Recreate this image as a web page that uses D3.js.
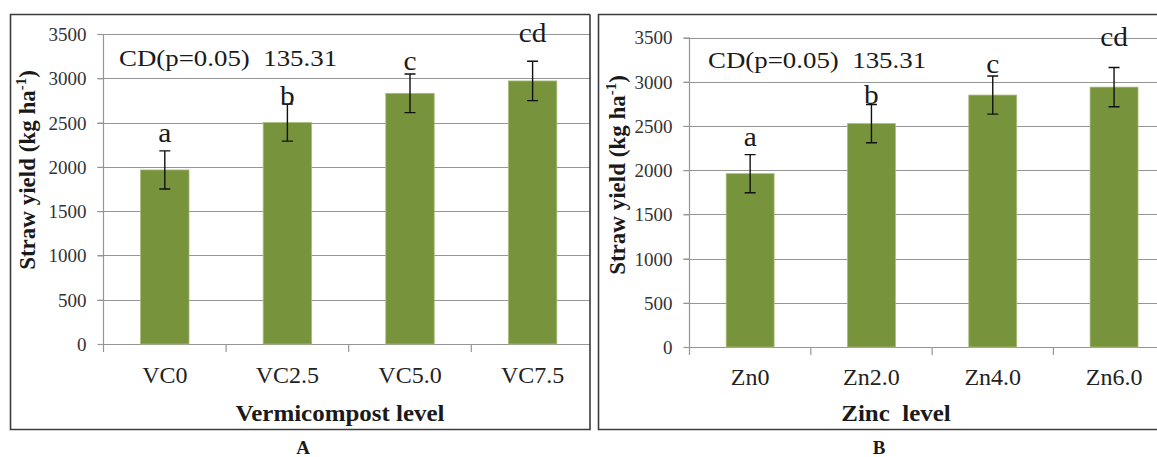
<!DOCTYPE html>
<html>
<head>
<meta charset="utf-8">
<script src="https://cdn.jsdelivr.net/npm/d3@7"></script>
<style>
  html, body { margin: 0; padding: 0; background: #fff; }
  svg { display: block; }
</style>
</head>
<body>
<svg id="chart" width="1157" height="457"></svg>
<script>
// ---- data ----
const yTicks = [0, 500, 1000, 1500, 2000, 2500, 3000, 3500];
const yTitle = "Straw yield (kg ha";
const ySup = "-1";
const cdText = "CD(p=0.05)  135.31";

const vcCategories = ["VC0", "VC2.5", "VC5.0", "VC7.5"];
const vcValues = [1965, 2500, 2830, 2970];
const vcErrors = [215, 210, 218, 222];
const vcLetters = ["a", "b", "c", "cd"];
const vcLetterAt = [2284, 2698, 3094, 3406];
const vcTitle = "Vermicompost level";
const vcCaption = "A";

const znCategories = ["Zn0", "Zn2.0", "Zn4.0", "Zn6.0"];
const znValues = [1960, 2526, 2849, 2939];
const znErrors = [215, 216, 215, 222];
const znLetters = ["a", "b", "c", "cd"];
const znLetterAt = [2273, 2744, 3102, 3402];
const znTitle = "Zinc  level";
const znCaption = "B";

// ---- layout ----
const FONT = '"Liberation Serif", "Times New Roman", Tinos, serif';
const svg = d3.select("#chart");
const BAR = "#77933c";
const GRID = "#969696";

const panels = [
  { cats: vcCategories, vals: vcValues, errs: vcErrors, letters: vcLetters, letterAt: vcLetterAt,
    title: vcTitle, caption: vcCaption,
    box: [10.5, 14.5, 590, 429.5], axisX: 103.5, step: 122.6, y0: 344, yTop: 34,
    yTitleX: 35, yTitleY: 170, titleX: 340, captionX: 303, catY: 383, cdX: 119, cdY: 66 },
  { cats: znCategories, vals: znValues, errs: znErrors, letters: znLetters, letterAt: znLetterAt,
    title: znTitle, caption: znCaption,
    box: [598.5, 14.5, 1170, 429.5], axisX: 689.5, step: 121.3, y0: 347, yTop: 37.5,
    yTitleX: 625, yTitleY: 175, titleX: 896, captionX: 879, catY: 385, cdX: 708, cdY: 68 }
];

function txt(g, x, y, s, size, opts = {}) {
  return g.append("text")
    .attr("transform", `translate(${x},${y}) scale(${opts.sx || 1},1)`)
    .attr("text-anchor", opts.anchor || "middle")
    .style("font-family", FONT)
    .style("font-size", size + "px")
    .style("font-weight", opts.weight || "normal")
    .style("white-space", "pre")
    .attr("fill", opts.fill || "#1a1a1a")
    .text(s);
}

panels.forEach((p, pi) => {
  const g = svg.append("g");
  const [bx0, by0, bx1, by1] = p.box;
  const clipId = "clip" + pi;
  svg.append("clipPath").attr("id", clipId)
    .append("rect").attr("x", bx0).attr("y", by0).attr("width", Math.min(bx1, 1157) - bx0).attr("height", by1 - by0);

  const x = d3.scaleBand().domain(p.cats)
    .range([p.axisX, p.axisX + p.step * p.cats.length])
    .paddingInner(0.605).paddingOuter(0.3025);
  const y = d3.scaleLinear().domain([0, 3500]).range([p.y0, p.yTop]);

  const inner = g.append("g").attr("clip-path", `url(#${clipId})`);

  // gridlines
  inner.append("g").selectAll("line").data(yTicks.filter(d => d > 0)).join("line")
    .attr("x1", p.axisX - 6).attr("x2", bx1)
    .attr("y1", d => Math.round(y(d)) + 0.5).attr("y2", d => Math.round(y(d)) + 0.5)
    .attr("stroke", GRID).attr("stroke-width", 1.2);

  // y axis with outward ticks
  const yAxis = d3.axisLeft(y).tickValues(yTicks).tickSize(6).tickPadding(11)
    .tickFormat(d3.format("d"));
  const ya = g.append("g").attr("transform", `translate(${p.axisX},0)`).call(yAxis);
  ya.select(".domain").remove();
  ya.selectAll(".tick line").attr("stroke", GRID).attr("stroke-width", 1.2);
  ya.selectAll(".tick text")
    .style("font-family", FONT).style("font-size", "19px")
    .attr("fill", "#333").attr("dy", "0.34em");
  g.append("line").attr("x1", p.axisX).attr("x2", p.axisX)
    .attr("y1", p.yTop).attr("y2", p.y0 + 8)
    .attr("stroke", GRID).attr("stroke-width", 1.2);

  // x axis line and ticks at band boundaries
  inner.append("line").attr("x1", p.axisX).attr("x2", bx1)
    .attr("y1", p.y0 + 0.5).attr("y2", p.y0 + 0.5).attr("stroke", GRID).attr("stroke-width", 1.2);
  inner.append("g").selectAll("line").data(p.cats.slice(1)).join("line")
    .attr("x1", d => x(d) - x.step() * x.paddingInner() / 2)
    .attr("x2", d => x(d) - x.step() * x.paddingInner() / 2)
    .attr("y1", p.y0).attr("y2", p.y0 + 8)
    .attr("stroke", GRID).attr("stroke-width", 1.2);

  // bars
  inner.append("g").selectAll("rect").data(p.vals).join("rect")
    .attr("x", (d, i) => x(p.cats[i]))
    .attr("width", x.bandwidth())
    .attr("y", d => y(d))
    .attr("height", d => y(0) - y(d))
    .attr("fill", BAR).attr("stroke", "#a6bd78").attr("stroke-width", 0.8);

  // error bars
  const eb = inner.append("g").attr("stroke", "#111").attr("stroke-width", 1.4);
  p.vals.forEach((v, i) => {
    const cx = x(p.cats[i]) + x.bandwidth() / 2;
    const hi = y(v + p.errs[i]), lo = y(v - p.errs[i]);
    eb.append("line").attr("x1", cx).attr("x2", cx).attr("y1", hi).attr("y2", lo);
    eb.append("line").attr("x1", cx - 5.5).attr("x2", cx + 5.5).attr("y1", hi).attr("y2", hi);
    eb.append("line").attr("x1", cx - 5.5).attr("x2", cx + 5.5).attr("y1", lo).attr("y2", lo);
  });

  // significance letters
  p.letters.forEach((L, i) => {
    txt(g, x(p.cats[i]) + x.bandwidth() / 2, y(p.letterAt[i]), L, 28, { sx: 1.05 });
  });

  // CD annotation
  txt(g, p.cdX, p.cdY, cdText, 24, { anchor: "start", sx: 1.12 });

  // category labels
  p.cats.forEach(c => txt(g, x(c) + x.bandwidth() / 2, p.catY, c, 24, { fill: "#222" }));

  // x title
  txt(g, p.titleX, 421, p.title, 24, { weight: "bold", sx: 1.04 });

  // y title (rotated)
  const yt = g.append("text")
    .attr("transform", `translate(${p.yTitleX},${p.yTitleY}) rotate(-90)`)
    .attr("text-anchor", "middle")
    .style("font-family", FONT).style("font-size", "23px").style("font-weight", "bold")
    .attr("fill", "#1a1a1a");
  yt.append("tspan").text(yTitle);
  yt.append("tspan").style("font-size", "15px").attr("dy", "-0.6em").text(ySup);
  yt.append("tspan").attr("dy", "0.38em").text(")");

  // panel border
  g.append("path")
    .attr("d", `M${Math.min(bx1, 1160)},${by0}H${bx0}V${by1}H${Math.min(bx1, 1160)}` + (bx1 <= 1157 ? `V${by0}` : ""))
    .attr("fill", "none").attr("stroke", "#3c3c3c").attr("stroke-width", 1.6);

  // caption
  txt(g, p.captionX, 454, p.caption, 19, { weight: "bold" });
});
</script>
</body>
</html>
